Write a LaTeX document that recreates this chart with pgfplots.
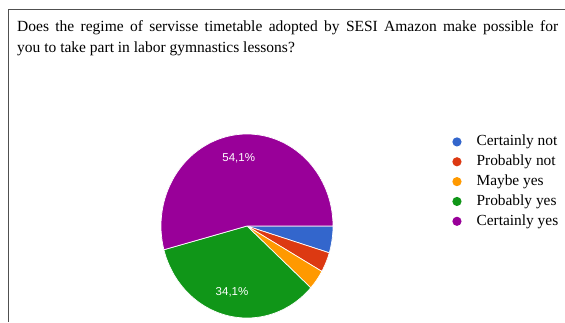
\documentclass[border=0pt]{standalone}
\usepackage{pgfplots}
\pgfplotsset{compat=1.18}
\usepackage{pgfplotstable}
\usepackage{fontspec}
\setmainfont{Liberation Serif}
\newfontfamily\labelfont{Liberation Sans}
\newcommand\pielabelfont{\labelfont\fontsize{11.5}{13}\selectfont}
\definecolor{gblue}{HTML}{3366CC}
\definecolor{gred}{HTML}{DC3912}
\definecolor{gorange}{HTML}{FF9900}
\definecolor{ggreen}{HTML}{109618}
\definecolor{gpurple}{HTML}{990099}
\definecolor{framegray}{HTML}{505050}
\pgfplotstableread[col sep=comma]{
label,value,color
Certainly not,4.7,gblue
Probably not,3.5,gred
Maybe yes,3.5,gorange
Probably yes,34.1,ggreen
Certainly yes,54.1,gpurple
}\piedata
\begin{document}
\begin{tikzpicture}
\draw[color=framegray, line width=1pt] (565pt,312pt) -- (8pt,312pt) -- (8pt,0pt);
\node[anchor=base west, inner sep=0pt, text width=541pt, align=justify, font=\fontsize{15.5}{21}\selectfont] at (17pt,290pt)
 {Does the regime of servisse timetable adopted by SESI Amazon make possible for\linebreak you to take part in labor gymnastics lessons?};
\def\total{0}
\pgfplotsforeachungrouped \i in {0,...,4}{%
  \pgfplotstablegetelem{\i}{value}\of\piedata
  \pgfmathsetmacro\total{\total+\pgfplotsretval}%
}
\begin{axis}[
  hide axis, scale only axis, clip=false,
  width=172pt, height=184pt,
  xmin=-1, xmax=1, ymin=-1, ymax=1,
  at={(247pt,96pt)}, anchor=center,
  legend image code/.code={\fill[#1,draw=none] (0pt,0pt) circle (4.6pt);},
  legend cell align=left,
  legend style={draw=none, fill=none, inner sep=0pt, outer sep=0pt,
    at={(axis description cs:1.694,1.01)}, anchor=north west,
    font=\fontsize{15.4}{18}\selectfont, column sep=15pt, row sep=0.35pt,
    nodes={inner sep=0pt, text height=13.5pt, text depth=6pt, anchor=west}},
]
\def\cum{0}
\pgfplotsforeachungrouped \i in {0,...,4}{%
  \pgfplotstablegetelem{\i}{value}\of\piedata
  \let\v\pgfplotsretval
  \pgfplotstablegetelem{\i}{color}\of\piedata
  \let\c\pgfplotsretval
  \pgfplotstablegetelem{\i}{label}\of\piedata
  \let\lab\pgfplotsretval
  \pgfmathsetmacro\a{-(\cum+\v)/\total*360}%
  \pgfmathsetmacro\b{-\cum/\total*360}%
  \pgfmathsetmacro\cum{\cum+\v}%
  \edef\temp{\noexpand\addplot[fill=\c, draw=white, line width=0.7pt, domain=\a:\b, samples=90] ({cos(x)},{sin(x)}) -- (axis cs:0,0) -- cycle;
    \noexpand\addlegendentry{\lab}}%
  \temp
}
\def\cum{0}
\pgfplotsforeachungrouped \i in {0,...,4}{%
  \pgfplotstablegetelem{\i}{value}\of\piedata
  \let\v\pgfplotsretval
  \pgfmathsetmacro\mid{-(\cum+\v/2)/\total*360}%
  \pgfmathsetmacro\lx{0.74*cos(\mid)}%
  \pgfmathsetmacro\ly{0.74*sin(\mid)}%
  \pgfmathsetmacro\cum{\cum+\v}%
  \ifdim\v pt>10pt
  \edef\temp{\noexpand\node[font=\noexpand\pielabelfont, text=white, inner sep=0pt] at (axis cs:\lx,\ly) {\noexpand\pgfmathprintnumber[assume math mode=true,use comma,fixed,precision=1,fixed zerofill]{\v}\noexpand\%};}%
  \temp
  \fi
}
\end{axis}
\pgfresetboundingbox
\path (0,0) rectangle (565pt,322pt);
\end{tikzpicture}
\end{document}
